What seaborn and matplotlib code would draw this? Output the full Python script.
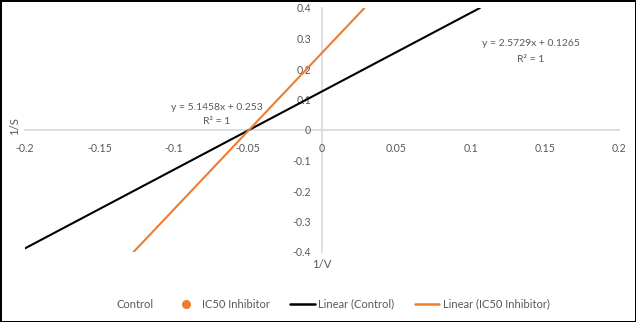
import numpy as np
import pandas as pd
import matplotlib
matplotlib.use("Agg")
import matplotlib.pyplot as plt
from matplotlib.lines import Line2D
import seaborn as sns

# Trendline parameters
series_names = ["Control", "IC50 Inhibitor"]
slopes = [2.5729, 5.1458]
intercepts = [0.1265, 0.253]
# visible x-extent of each trendline
x_ranges = [[-0.2, 0.1063], [-0.1269, 0.0286]]
x_ticks = [-0.2, -0.15, -0.1, -0.05, 0, 0.05, 0.1, 0.15, 0.2]
y_ticks = [-0.4, -0.3, -0.2, -0.1, 0, 0.1, 0.2, 0.3, 0.4]
colors = ["#000000", "#ED7D31"]

rows = []
for name, m, b, xr in zip(series_names, slopes, intercepts, x_ranges):
    for x in xr:
        rows.append({"series": name, "x": x, "y": m * x + b})
df = pd.DataFrame(rows)

sns.set_style("white")
plt.rcParams["font.family"] = ["Lato", "DejaVu Sans"]
txt = "#595959"

fig = plt.figure(figsize=(6.36, 3.22), dpi=100)
fig.patch.set_edgecolor("black")
fig.patch.set_linewidth(2)
ax = fig.add_axes([25 / 636, 1 - 252 / 322, 594 / 636, 244 / 322])

sns.lineplot(data=df, x="x", y="y", hue="series", palette=colors, ax=ax,
             linewidth=1.5, legend=False, estimator=None, sort=False)

ax.set_xlim(-0.2, 0.2)
ax.set_ylim(-0.4, 0.4)
ax.set_xticks(x_ticks)
ax.set_yticks(y_ticks)
ax.set_xticklabels([f"{v:g}" for v in x_ticks])
ax.set_yticklabels([f"{v:g}" for v in y_ticks])
for s in ["top", "right"]:
    ax.spines[s].set_visible(False)
ax.spines["left"].set_position("zero")
ax.spines["bottom"].set_position("zero")
for s in ["left", "bottom"]:
    ax.spines[s].set_color("#d9d9d9")
    ax.spines[s].set_linewidth(1.2)
    ax.spines[s].set_zorder(0.5)
ax.tick_params(axis="x", length=0, pad=9, labelsize=7.6, labelcolor=txt)
ax.tick_params(axis="y", length=0, pad=8, labelsize=7.6, labelcolor=txt)
ax.set_xlabel("")
ax.set_ylabel("")
ax.patch.set_alpha(0)

fig.text(15 / 636, 1 - 126 / 322, "1/S", rotation=90, ha="center", va="center",
         fontsize=8.2, color=txt)
fig.text(322 / 636, 1 - 265 / 322, "1/V", ha="center", va="center",
         fontsize=8.2, color=txt)

fig.text(217 / 636, 1 - 107 / 322, f"y = {slopes[1]}x + {intercepts[1]}",
         ha="center", va="center", fontsize=7.5, color=txt)
fig.text(217 / 636, 1 - 122 / 322, "R² = 1", ha="center", va="center",
         fontsize=7.5, color=txt)
fig.text(531 / 636, 1 - 44 / 322, f"y = {slopes[0]}x + {intercepts[0]}",
         ha="center", va="center", fontsize=7.5, color=txt)
fig.text(531 / 636, 1 - 60 / 322, "R² = 1", ha="center", va="center",
         fontsize=7.5, color=txt)

handles = [
    Line2D([], [], linestyle="none", marker=None),
    Line2D([], [], linestyle="none", marker="o", color=colors[1], markersize=5.5),
    Line2D([], [], color=colors[0], linewidth=1.8),
    Line2D([], [], color=colors[1], linewidth=1.8),
]
labels = ["Control", "IC50 Inhibitor", "Linear (Control)", "Linear (IC50 Inhibitor)"]
fig.legend(handles, labels, loc="center", bbox_to_anchor=(319 / 636, 1 - 304 / 322),
           ncol=4, frameon=False, fontsize=8, labelcolor=txt, handlelength=2.2,
           handletextpad=0.3, columnspacing=1.85, borderpad=0, borderaxespad=0)

fig.savefig("out.png", dpi=100)
